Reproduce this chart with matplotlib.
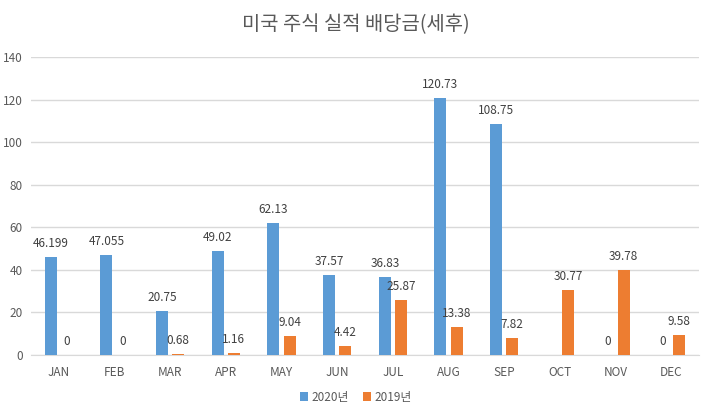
import numpy as np
import matplotlib
matplotlib.use("Agg")
import matplotlib.pyplot as plt

plt.rcParams['font.family'] = ['Noto Sans CJK KR', 'DejaVu Sans']

months = ["JAN", "FEB", "MAR", "APR", "MAY", "JUN", "JUL", "AUG", "SEP", "OCT", "NOV", "DEC"]
div_2020 = [46.199, 47.055, 20.75, 49.02, 62.13, 37.57, 36.83, 120.73, 108.75, None, 0, 0]
div_2019 = [0, 0, 0.68, 1.16, 9.04, 4.42, 25.87, 13.38, 7.82, 30.77, 39.78, 9.58]
labels_2020 = ["46.199", "47.055", "20.75", "49.02", "62.13", "37.57", "36.83", "120.73", "108.75", None, "0", "0"]
labels_2019 = ["0", "0", "0.68", "1.16", "9.04", "4.42", "25.87", "13.38", "7.82", "30.77", "39.78", "9.58"]

BLUE = "#5B9BD5"
ORANGE = "#ED7D31"
TXT = "#404040"
TICK = "#595959"

fig = plt.figure(figsize=(7.12, 4.11), dpi=100)
ax = fig.add_axes([31 / 712, 1 - 355 / 411, 668 / 712, 298 / 411])

x = np.arange(len(months))
w = 0.215
off = 0.144

v20 = np.array([np.nan if v is None else v for v in div_2020], dtype=float)
v19 = np.array(div_2019, dtype=float)
ax.bar(x - off, v20, width=w, color=BLUE, label="2020년", zorder=3)
ax.bar(x + off, v19, width=w, color=ORANGE, label="2019년", zorder=3)

for xi, v, t in zip(x, v20, labels_2020):
    if t is None:
        continue
    ax.annotate(t, (xi - off, v), xytext=(0, 5), textcoords="offset points",
                ha="center", va="bottom", fontsize=8.5, color=TXT)
for xi, v, t in zip(x, v19, labels_2019):
    ax.annotate(t, (xi + off, v), xytext=(0, 5), textcoords="offset points",
                ha="center", va="bottom", fontsize=8.5, color=TXT)

ax.set_xlim(-0.5, len(months) - 0.5)
ax.set_ylim(0, 140)
ax.set_yticks(range(0, 141, 20))
ax.set_xticks(x)
ax.set_xticklabels(months)
ax.tick_params(axis="both", length=0, labelsize=8.5, colors=TICK)
ax.tick_params(axis="x", pad=8)
ax.tick_params(axis="y", pad=6)
ax.yaxis.grid(True, color="#D9D9D9", linewidth=1, zorder=0)
for s in ["top", "right", "left"]:
    ax.spines[s].set_visible(False)
ax.spines["bottom"].set_color("#D9D9D9")

fig.text(0.5, 1 - 25 / 411, "미국 주식 실적 배당금(세후)", ha="center", va="center",
         fontsize=14.3, color=TICK)

fig.legend(loc="center", bbox_to_anchor=(0.5, 1 - 397 / 411), ncol=2, frameon=False,
           fontsize=8.5, handlelength=0.7, handleheight=0.7, handletextpad=0.3,
           columnspacing=1.2, labelcolor=TICK)

fig.savefig("out.png", dpi=100)
